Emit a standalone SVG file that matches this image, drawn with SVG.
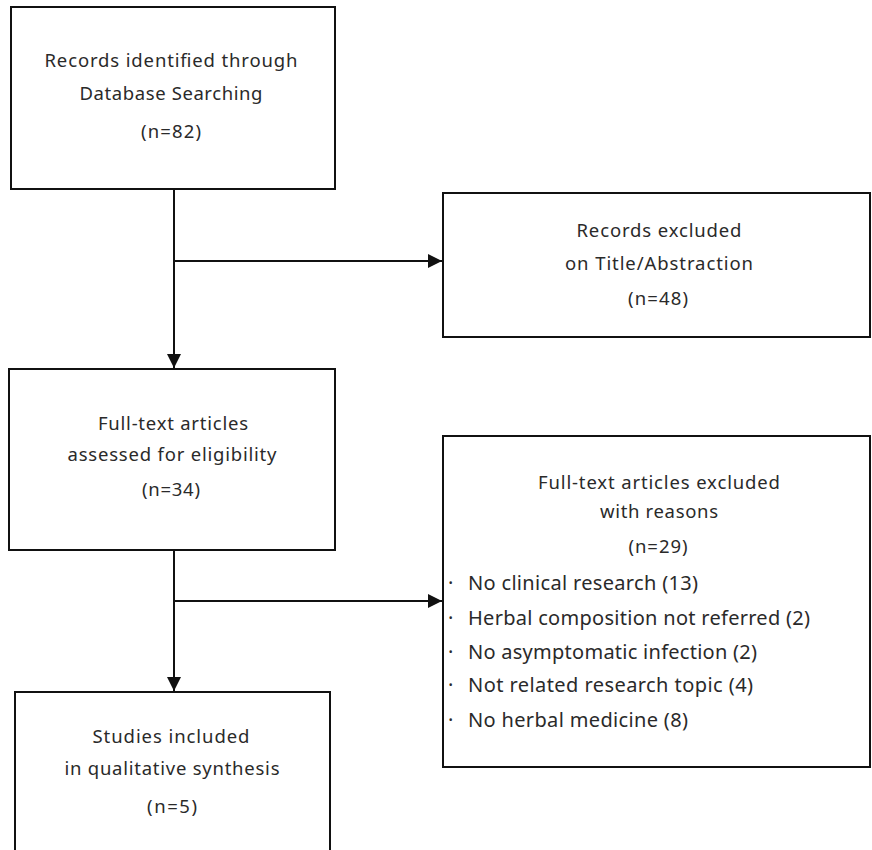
<svg xmlns="http://www.w3.org/2000/svg" width="872" height="850" viewBox="0 0 872 850">
<style>
.box{fill:#fff;stroke:#111;stroke-width:2}
.t{font-family:"Noto Sans","Liberation Sans",sans-serif;font-size:18.5px;fill:#2a2a2a}
.b{font-size:20px}
.c{text-anchor:middle}
.ln{fill:none;stroke:#111;stroke-width:2}
</style>
<defs>
<marker id="ah" viewBox="0 0 10 10" refX="10" refY="5" markerWidth="14" markerHeight="14" markerUnits="userSpaceOnUse" orient="auto">
<path d="M0,0 L10,5 L0,10 z" fill="#111"/>
</marker>
</defs>
<rect width="872" height="850" fill="#fff"/>
<g id="connectors">
<line class="ln" x1="174" y1="189" x2="174" y2="368" marker-end="url(#ah)"/>
<line class="ln" x1="174" y1="261" x2="442" y2="261" marker-end="url(#ah)"/>
<line class="ln" x1="174" y1="550" x2="174" y2="691" marker-end="url(#ah)"/>
<line class="ln" x1="174" y1="601" x2="442" y2="601" marker-end="url(#ah)"/>
</g>
<g id="n1">
<rect class="box" x="11" y="7" width="324" height="182"/>
<text class="t c" x="171" y="67" textLength="253" lengthAdjust="spacing">Records identified through</text>
<text class="t c" x="171" y="100" textLength="183" lengthAdjust="spacing">Database Searching</text>
<text class="t c" x="171" y="138" textLength="60" lengthAdjust="spacing">(n=82)</text>
</g>
<g id="n2">
<rect class="box" x="443" y="193" width="427" height="144"/>
<text class="t c" x="659" y="237" textLength="165" lengthAdjust="spacing">Records excluded</text>
<text class="t c" x="659" y="270" textLength="188" lengthAdjust="spacing">on Title/Abstraction</text>
<text class="t c" x="658" y="305" textLength="60" lengthAdjust="spacing">(n=48)</text>
</g>
<g id="n3">
<rect class="box" x="9" y="369" width="326" height="181"/>
<text class="t c" x="173" y="430" textLength="150" lengthAdjust="spacing">Full-text articles</text>
<text class="t c" x="172" y="461" textLength="209" lengthAdjust="spacing">assessed for eligibility</text>
<text class="t c" x="171" y="496" textLength="58" lengthAdjust="spacing">(n=34)</text>
</g>
<g id="n4">
<rect class="box" x="443" y="436" width="427" height="331"/>
<text class="t c" x="659" y="489" textLength="242" lengthAdjust="spacing">Full-text articles excluded</text>
<text class="t c" x="659" y="518" textLength="118" lengthAdjust="spacing">with reasons</text>
<text class="t c" x="658" y="553" textLength="59" lengthAdjust="spacing">(n=29)</text>
<text class="t b" x="448" y="590">·</text>
<text class="t b" x="468" y="590" textLength="230" lengthAdjust="spacing">No clinical research (13)</text>
<text class="t b" x="448" y="625">·</text>
<text class="t b" x="468" y="625" textLength="342" lengthAdjust="spacing">Herbal composition not referred (2)</text>
<text class="t b" x="448" y="659">·</text>
<text class="t b" x="468" y="659" textLength="289" lengthAdjust="spacing">No asymptomatic infection (2)</text>
<text class="t b" x="448" y="692">·</text>
<text class="t b" x="468" y="692" textLength="285" lengthAdjust="spacing">Not related research topic (4)</text>
<text class="t b" x="448" y="727">·</text>
<text class="t b" x="468" y="727" textLength="220" lengthAdjust="spacing">No herbal medicine (8)</text>
</g>
<g id="n5">
<rect class="box" x="15" y="692" width="315" height="170"/>
<text class="t c" x="171" y="743" textLength="157" lengthAdjust="spacing">Studies included</text>
<text class="t c" x="172" y="775" textLength="215" lengthAdjust="spacing">in qualitative synthesis</text>
<text class="t c" x="172" y="813" textLength="50" lengthAdjust="spacing">(n=5)</text>
</g>
</svg>
